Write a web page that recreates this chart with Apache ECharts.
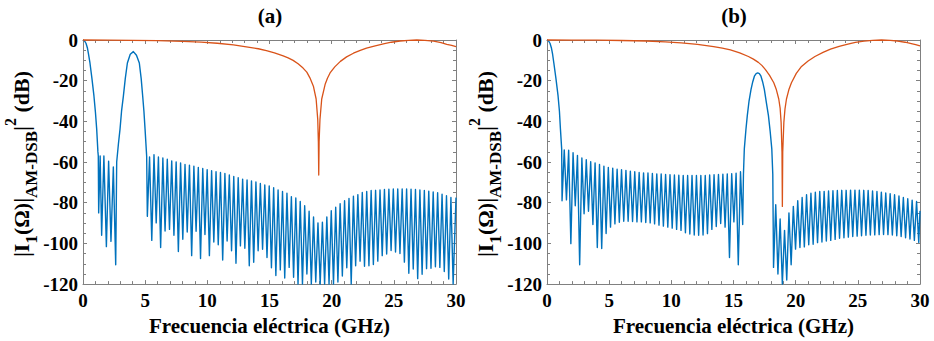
<!DOCTYPE html>
<html><head><meta charset="utf-8">
<script src="https://cdn.jsdelivr.net/npm/echarts@6/dist/echarts.min.js"></script>
<style>html,body{margin:0;padding:0;background:#fff}#c{width:934px;height:341px}</style>
</head><body><div id="c"></div>
<script>
// ---------- axis ticks ----------
const xTicks = [0, 5, 10, 15, 20, 25, 30];
const yTicks = [-120, -100, -80, -60, -40, -20, 0];

// ---------- panel (a) : blue curve ----------
const aMainLobe = [[0,0],[0.12,-0.4],[0.24,-1.6],[0.35,-3.8],[0.43,-6.5],[0.56,-11.3],[0.72,-19],[0.88,-27.5],[1.0,-35.5],[1.1,-43.7],[1.2,-55],[1.23,-57]];
const aNearLobes = [[1.26,-85],[1.38,-57],[1.50,-96],[1.68,-57],[1.88,-101.6],[2.06,-59.6],[2.25,-99],[2.44,-62.4],[2.63,-110.5]];
const aSecondLobe = [[2.71,-60],[2.85,-51],[2.98,-43.7],[3.1,-35],[3.25,-27.5],[3.4,-19],[3.57,-11.3],[3.8,-7],[4.05,-5.7],[4.3,-7.5],[4.53,-11.3],[4.68,-19],[4.8,-27.5],[4.9,-35],[4.99,-43.7],[5.12,-57]];
const aSideRange = [5.175, 29.77];
const aSideNulls = [-86.7,-98.5,-89.9,-102,-93.9,-93.1,-96,-104,-98,-94.4,-106,-94,-107.4,-95.6,-106,-99.3,-100.7,-108.2,-98.8,-103.6,-109.8,-101.2,-102.4,-111,-109.3,-103.6,-102.9,-106.9,-112,-115.8,-113,-117,-111.8,-116.6,
  -120,-120,-115,-120,-119,-120,-120,-120,-120,-119,-116,-112,-120,-111,-108.7,-111.2,-111,-110.4,-108.7,-106,-105.2,-103.5,-104.2,-105,-109.2,-114.7,-112.6,-117.3,-115.2,-112.4,-112.2,-111.5,-111.8,-113.8,-117.5,-120];
const aSidePeaks = [-57.5,-56.4,-57.5,-58,-58.6,-59.4,-59.9,-60.4,-61.2,-61.5,-62,-62.7,-63.2,-63.7,-64.3,-64.8,-65.1,-65.6,-66.4,-67.1,-67.7,-68.4,-68.8,-69.3,-69.8,-70.5,-71.3,-71.8,-72.6,-73.7,-74.5,-75.3,-77,-77.7,-79.4,
  -81.5,-84.2,-87,-89.9,-89.6,-87,-83.9,-82.2,-80.5,-79,-77.9,-76.8,-76,-75,-74.5,-74,-73.9,-73.7,-73.5,-73.4,-73.2,-73.2,-73.2,-73.2,-73.4,-73.5,-73.7,-74,-74.3,-74.7,-75.1,-75.8,-76.6,-77.4];
const aEnd = [[30,-77.5]];

// ---------- panel (a) : orange curve ----------
const orangeA = [[0,0],[2,-0.05],[4,-0.2],[6,-0.35],[8,-0.65],[9.5,-1.0],[10.8,-1.6],[12.1,-2.4],[13.4,-3.6],[14.1,-4.3],[14.75,-5.2],[15.4,-6.3],[16.1,-7.8],[16.5,-8.8],[16.9,-10],[17.3,-11.7],[17.7,-13.8],[18.0,-15.8],[18.25,-18.6],[18.53,-22.7],[18.75,-29],[18.88,-39],[18.93,-50],[18.96,-66.4],[18.99,-50],[19.06,-39],[19.2,-29],[19.47,-21.9],[19.66,-18.8],[19.87,-16.2],[20.25,-13.2],[20.7,-10.5],[21.2,-8.3],[21.75,-6.5],[22.3,-5.1],[22.8,-4],[23.5,-2.9],[24.16,-1.9],[24.8,-1.1],[25.5,-0.5],[26.2,-0.15],[26.85,0],[27.5,-0.15],[28.2,-0.6],[28.8,-1.3],[29.26,-2.1],[29.65,-2.6],[30,-3.2]];

// ---------- panel (b) : blue curve ----------
const bMainLobe = [[0,0],[0.12,-0.4],[0.24,-1.6],[0.35,-3.8],[0.45,-7],[0.55,-11.3],[0.72,-19],[0.89,-27.5],[1.0,-35],[1.08,-43.7],[1.18,-53.5]];
const bSideRange1 = [1.21, 15.74];
const bSideNulls1 = [-79,-78.6,-100.1,-81.5,-110.5,-85.4,-84.2,-90.7,-102,-102.5,-95.1,-92,-90.4,-89.6,-89.1,-89.1,-89.2,-89.4,-89.4,-89.7,-89.9,-90.4,-91,-91.5,-92,-92.5,-93.1,-93.6,-94.8,-95.4,-95.9,-96,-95.9,-95.2,-93.1,-91.7,
  -90.2,-92,-106.9,-89.4,-110.5,-90.7];
const bSidePeaks1 = [-54,-54.2,-55.4,-56.7,-58,-58.8,-59.8,-60.4,-61.2,-62,-62.7,-63,-63.5,-63.8,-64.1,-64.5,-64.8,-65.1,-65.3,-65.4,-65.6,-65.8,-65.9,-66.1,-66.2,-66.4,-66.5,-66.6,-66.6,-66.6,-66.6,-66.6,-66.6,-66.4,-66.2,-66.1,
  -66,-65.8,-65.7,-65.5,-64.8];
const bSecondLobe = [[15.8,-66],[15.87,-53.5],[16.0,-44],[16.11,-37.2],[16.25,-30],[16.41,-24.3],[16.55,-20.5],[16.68,-17.8],[16.82,-16.5],[16.95,-16.2],[17.08,-16.5],[17.21,-17.8],[17.34,-20.5],[17.48,-24.3],[17.65,-31],[17.81,-37.2],[17.95,-45],[18.08,-53.5],[18.16,-66]];
const bSideRange2 = [18.22, 29.9];
const bSideNulls2 = [-111.8,-115,-120,-118,-110.5,-102.8,-102,-101.7,-100.7,-100.4,-99.6,-99.3,-98.8,-98.5,-98,-97.5,-97.2,-96.9,-96.6,-96.4,-96.2,-96,-95.9,-95.8,-95.7,-95.6,-95.7,-95.9,-96.2,-96.6,-97.2,-97.8,-98.5,-99.5];
const bSidePeaks2 = [-81,-88,-93.6,-85,-81.8,-79,-77.4,-76.1,-75.3,-74.8,-74.5,-74.4,-74.2,-74.1,-74,-73.9,-73.9,-73.8,-73.8,-73.8,-73.9,-74,-74.2,-74.5,-74.8,-75.2,-75.6,-76.1,-76.7,-77.4,-78,-78.7,-79.4];
const bEnd = [[30,-84]];

// ---------- panel (b) : orange curve ----------
const orangeB = [[0,0],[2,-0.03],[4,-0.1],[6,-0.25],[8,-0.5],[9.5,-0.9],[10.8,-1.4],[12.1,-2.2],[13.4,-3.3],[14.1,-4.0],[14.75,-4.9],[15.5,-6.3],[16.2,-8.1],[16.6,-9.4],[17.0,-11],[17.3,-12.6],[17.57,-14.6],[17.9,-17.4],[18.24,-21],[18.45,-24.5],[18.64,-29],[18.75,-33.5],[18.83,-40.5],[18.9,-55],[18.93,-81.8],[18.96,-55],[19.05,-40.5],[19.14,-34],[19.26,-29],[19.45,-24.5],[19.66,-21],[20.05,-16.4],[20.47,-13],[21.0,-10.3],[21.55,-8.1],[22.2,-6.1],[22.8,-4.5],[23.5,-3.1],[24.2,-2],[24.8,-1.2],[25.5,-0.6],[26.2,-0.15],[26.9,0],[27.6,-0.15],[28.2,-0.5],[28.8,-1.1],[29.3,-1.8],[29.65,-2.3],[30,-2.9]];

// ---------- texts ----------
const panelTitles = ['(a)', '(b)'];
const xAxisName = 'Frecuencia eléctrica (GHz)';

// lobe sequence from read nulls (evenly spaced in the read range) and read peak levels
function buildLobes(range, nulls, peaks) {
  const step = (range[1] - range[0]) / (nulls.length - 1);
  const pts = [];
  nulls.forEach((v, i) => {
    pts.push([range[0] + i * step, v]);
    if (i < peaks.length) pts.push([range[0] + (i + 0.5) * step, peaks[i]]);
  });
  return pts;
}

const blueA = [].concat(aMainLobe, aNearLobes, aSecondLobe, buildLobes(aSideRange, aSideNulls, aSidePeaks), aEnd);
const blueB = [].concat(bMainLobe, buildLobes(bSideRange1, bSideNulls1, bSidePeaks1), bSecondLobe, buildLobes(bSideRange2, bSideNulls2, bSidePeaks2), bEnd);

const FONT = '"Liberation Serif","Times New Roman",serif';
const AXC = '#808080';
const BLUE = '#0072BD', ORANGE = '#D95319';

function xAx(gi, pos) {
  const main = pos === 'bottom';
  return {
    type: 'value', gridIndex: gi, position: pos, min: xTicks[0], max: xTicks[xTicks.length - 1], interval: 5,
    axisLine: { show: true, onZero: false, lineStyle: { color: AXC, width: 1 } },
    axisTick: { show: true, inside: true, length: 4, lineStyle: { color: AXC } },
    minorTick: { show: true, splitNumber: 5, length: 3, lineStyle: { color: AXC } },
    splitLine: { show: false },
    axisLabel: { show: main, fontFamily: FONT, fontWeight: 'bold', fontSize: 19, color: '#000', margin: 7 },
    name: main ? xAxisName : '', nameLocation: 'middle', nameGap: 28,
    nameTextStyle: { fontFamily: FONT, fontWeight: 'bold', fontSize: 21, color: '#000' }
  };
}
function yAx(gi, pos) {
  const main = pos === 'left';
  return {
    type: 'value', gridIndex: gi, position: pos, min: yTicks[0], max: yTicks[yTicks.length - 1], interval: 20,
    axisLine: { show: true, onZero: false, lineStyle: { color: AXC, width: 1 } },
    axisTick: { show: true, inside: true, length: 4, lineStyle: { color: AXC } },
    minorTick: { show: true, splitNumber: 4, length: 3, lineStyle: { color: AXC } },
    splitLine: { show: false },
    axisLabel: { show: main, fontFamily: FONT, fontWeight: 'bold', fontSize: 19, color: '#000', margin: 5 }
  };
}
function yLabel(cx) {
  return {
    type: 'text', x: cx, y: 164, rotation: Math.PI / 2,
    style: {
      text: '{n||I}{s|1}{n|(Ω)|}{s|AM-DSB}{n||}{p|2}{n| (dB)}',
      align: 'center', verticalAlign: 'middle', fill: '#000',
      rich: {
        n: { fontFamily: FONT, fontWeight: 'bold', fontSize: 22, lineHeight: 38, verticalAlign: 'middle', fill: '#000' },
        s: { fontFamily: FONT, fontWeight: 'bold', fontSize: 17, lineHeight: 15, verticalAlign: 'bottom', fill: '#000' },
        p: { fontFamily: FONT, fontWeight: 'bold', fontSize: 16, lineHeight: 24, verticalAlign: 'top', fill: '#000' }
      }
    }
  };
}
function line(data, color, xi, w) {
  return { type: 'line', data: data, xAxisIndex: xi, yAxisIndex: xi, showSymbol: false, symbol: 'none',
    clip: false, silent: true, lineStyle: { color: color, width: w, join: 'round' } };
}

const chart = echarts.init(document.getElementById('c'), null, { renderer: 'svg' });
chart.setOption({
  animation: false,
  backgroundColor: '#fff',
  title: [
    { text: panelTitles[0], left: 270, top: 5, textAlign: 'center', padding: 0, textStyle: { fontFamily: FONT, fontWeight: 'bold', fontSize: 21, color: '#000' } },
    { text: panelTitles[1], left: 734, top: 5, textAlign: 'center', padding: 0, textStyle: { fontFamily: FONT, fontWeight: 'bold', fontSize: 21, color: '#000' } }
  ],
  grid: [
    { left: 83, top: 40, width: 373, height: 247 },
    { left: 547, top: 40, width: 373, height: 247 }
  ],
  xAxis: [xAx(0, 'bottom'), xAx(0, 'top'), xAx(1, 'bottom'), xAx(1, 'top')],
  yAxis: [yAx(0, 'left'), yAx(0, 'right'), yAx(1, 'left'), yAx(1, 'right')],
  series: [
    line(blueA, BLUE, 0, 1.4), line(orangeA, ORANGE, 0, 1.3),
    line(blueB, BLUE, 2, 1.4), line(orangeB, ORANGE, 2, 1.3)
  ],
  graphic: [yLabel(21), yLabel(485)]
});
</script></body></html>
